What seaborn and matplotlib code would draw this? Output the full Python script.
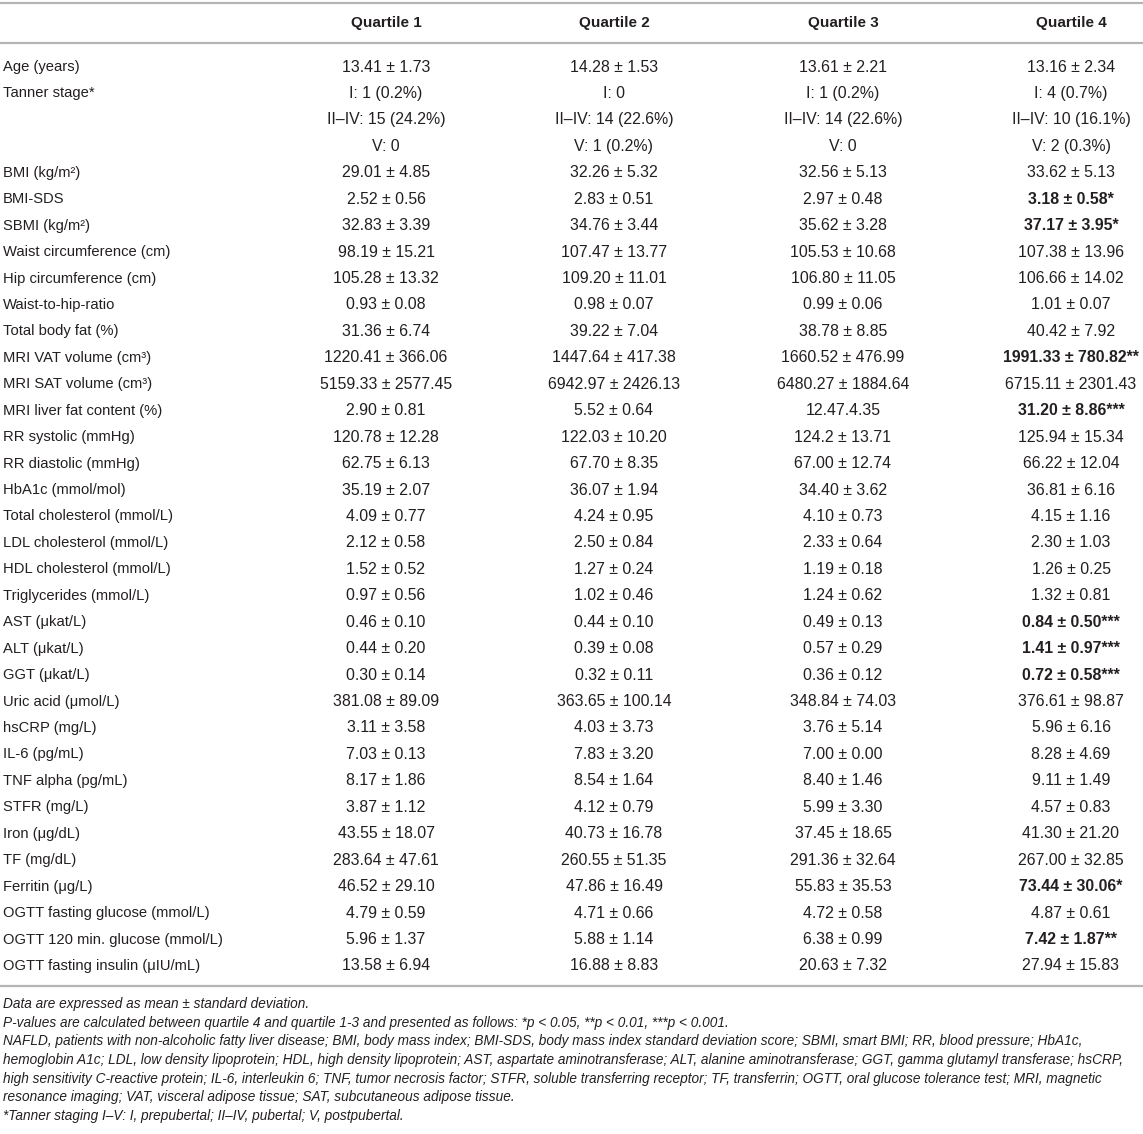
import matplotlib
matplotlib.use("Agg")
import matplotlib.pyplot as plt
import seaborn as sns

# Table contents
columns = ["Quartile 1", "Quartile 2", "Quartile 3", "Quartile 4"]

labels = [
    "Age (years)", "Tanner stage*", "", "", "BMI (kg/m²)", "BMI-SDS", "SBMI (kg/m²)",
    "Waist circumference (cm)", "Hip circumference (cm)", "Waist-to-hip-ratio",
    "Total body fat (%)", "MRI VAT volume (cm³)", "MRI SAT volume (cm³)",
    "MRI liver fat content (%)", "RR systolic (mmHg)", "RR diastolic (mmHg)",
    "HbA1c (mmol/mol)", "Total cholesterol (mmol/L)", "LDL cholesterol (mmol/L)",
    "HDL cholesterol (mmol/L)", "Triglycerides (mmol/L)", "AST (μkat/L)", "ALT (μkat/L)",
    "GGT (μkat/L)", "Uric acid (μmol/L)", "hsCRP (mg/L)", "IL-6 (pg/mL)",
    "TNF alpha (pg/mL)", "STFR (mg/L)", "Iron (μg/dL)", "TF (mg/dL)", "Ferritin (μg/L)",
    "OGTT fasting glucose (mmol/L)", "OGTT 120 min. glucose (mmol/L)",
    "OGTT fasting insulin (μIU/mL)",
]

q1 = [
    "13.41 ± 1.73", "I: 1 (0.2%)", "II–IV: 15 (24.2%)", "V: 0", "29.01 ± 4.85",
    "2.52 ± 0.56", "32.83 ± 3.39", "98.19 ± 15.21", "105.28 ± 13.32", "0.93 ± 0.08",
    "31.36 ± 6.74", "1220.41 ± 366.06", "5159.33 ± 2577.45", "2.90 ± 0.81",
    "120.78 ± 12.28", "62.75 ± 6.13", "35.19 ± 2.07", "4.09 ± 0.77", "2.12 ± 0.58",
    "1.52 ± 0.52", "0.97 ± 0.56", "0.46 ± 0.10", "0.44 ± 0.20", "0.30 ± 0.14",
    "381.08 ± 89.09", "3.11 ± 3.58", "7.03 ± 0.13", "8.17 ± 1.86", "3.87 ± 1.12",
    "43.55 ± 18.07", "283.64 ± 47.61", "46.52 ± 29.10", "4.79 ± 0.59", "5.96 ± 1.37",
    "13.58 ± 6.94",
]

q2 = [
    "14.28 ± 1.53", "I: 0", "II–IV: 14 (22.6%)", "V: 1 (0.2%)", "32.26 ± 5.32",
    "2.83 ± 0.51", "34.76 ± 3.44", "107.47 ± 13.77", "109.20 ± 11.01", "0.98 ± 0.07",
    "39.22 ± 7.04", "1447.64 ± 417.38", "6942.97 ± 2426.13", "5.52 ± 0.64",
    "122.03 ± 10.20", "67.70 ± 8.35", "36.07 ± 1.94", "4.24 ± 0.95", "2.50 ± 0.84",
    "1.27 ± 0.24", "1.02 ± 0.46", "0.44 ± 0.10", "0.39 ± 0.08", "0.32 ± 0.11",
    "363.65 ± 100.14", "4.03 ± 3.73", "7.83 ± 3.20", "8.54 ± 1.64", "4.12 ± 0.79",
    "40.73 ± 16.78", "260.55 ± 51.35", "47.86 ± 16.49", "4.71 ± 0.66", "5.88 ± 1.14",
    "16.88 ± 8.83",
]

q3 = [
    "13.61 ± 2.21", "I: 1 (0.2%)", "II–IV: 14 (22.6%)", "V: 0", "32.56 ± 5.13",
    "2.97 ± 0.48", "35.62 ± 3.28", "105.53 ± 10.68", "106.80 ± 11.05", "0.99 ± 0.06",
    "38.78 ± 8.85", "1660.52 ± 476.99", "6480.27 ± 1884.64", "12.47.4.35",
    "124.2 ± 13.71", "67.00 ± 12.74", "34.40 ± 3.62", "4.10 ± 0.73", "2.33 ± 0.64",
    "1.19 ± 0.18", "1.24 ± 0.62", "0.49 ± 0.13", "0.57 ± 0.29", "0.36 ± 0.12",
    "348.84 ± 74.03", "3.76 ± 5.14", "7.00 ± 0.00", "8.40 ± 1.46", "5.99 ± 3.30",
    "37.45 ± 18.65", "291.36 ± 32.64", "55.83 ± 35.53", "4.72 ± 0.58", "6.38 ± 0.99",
    "20.63 ± 7.32",
]

q4 = [
    "13.16 ± 2.34", "I: 4 (0.7%)", "II–IV: 10 (16.1%)", "V: 2 (0.3%)", "33.62 ± 5.13",
    "3.18 ± 0.58*", "37.17 ± 3.95*", "107.38 ± 13.96", "106.66 ± 14.02", "1.01 ± 0.07",
    "40.42 ± 7.92", "1991.33 ± 780.82**", "6715.11 ± 2301.43", "31.20 ± 8.86***",
    "125.94 ± 15.34", "66.22 ± 12.04", "36.81 ± 6.16", "4.15 ± 1.16", "2.30 ± 1.03",
    "1.26 ± 0.25", "1.32 ± 0.81", "0.84 ± 0.50***", "1.41 ± 0.97***", "0.72 ± 0.58***",
    "376.61 ± 98.87", "5.96 ± 6.16", "8.28 ± 4.69", "9.11 ± 1.49", "4.57 ± 0.83",
    "41.30 ± 21.20", "267.00 ± 32.85", "73.44 ± 30.06*", "4.87 ± 0.61", "7.42 ± 1.87**",
    "27.94 ± 15.83",
]

# rows where the quartile 4 value is significant (bold)
bold_q4 = ["BMI-SDS", "SBMI (kg/m²)", "MRI VAT volume (cm³)", "MRI liver fat content (%)",
           "AST (μkat/L)", "ALT (μkat/L)", "GGT (μkat/L)", "Ferritin (μg/L)",
           "OGTT 120 min. glucose (mmol/L)"]

footnotes = [
    "Data are expressed as mean ± standard deviation.",
    "P-values are calculated between quartile 4 and quartile 1-3 and presented as follows: *p < 0.05, **p < 0.01, ***p < 0.001.",
    "NAFLD, patients with non-alcoholic fatty liver disease; BMI, body mass index; BMI-SDS, body mass index standard deviation score; SBMI, smart BMI; RR, blood pressure; HbA1c,",
    "hemoglobin A1c; LDL, low density lipoprotein; HDL, high density lipoprotein; AST, aspartate aminotransferase; ALT, alanine aminotransferase; GGT, gamma glutamyl transferase; hsCRP,",
    "high sensitivity C-reactive protein; IL-6, interleukin 6; TNF, tumor necrosis factor; STFR, soluble transferring receptor; TF, transferrin; OGTT, oral glucose tolerance test; MRI, magnetic",
    "resonance imaging; VAT, visceral adipose tissue; SAT, subcutaneous adipose tissue.",
    "*Tanner staging I–V: I, prepubertal; II–IV, pubertal; V, postpubertal.",
]

sns.set_theme(style="white")
plt.rcParams["font.family"] = ["Liberation Sans", "DejaVu Sans"]

W, H = 1143, 1134
fig = plt.figure(figsize=(W / 100, H / 100), dpi=100)
ax = fig.add_axes([0, 0, 1, 1])
ax.set_xlim(0, W)
ax.set_ylim(H, 0)
ax.axis("off")

txt = "#231f20"
rule = "#b5b5b5"
col_x = [386, 614, 843, 1071]

# rules
ax.hlines([3, 43, 986], 0, W, color=rule, lw=1.6)

# header
for x, name in zip(col_x, columns):
    ax.text(x, 23, name, ha="center", va="center", fontsize=11, fontweight="bold", color=txt)

# body rows
y0, dy = 67, 26.44
for i, lab in enumerate(labels):
    y = y0 + i * dy
    ax.text(3, y, lab, ha="left", va="center", fontsize=10.6, color=txt)
    for j, vals in enumerate([q1, q2, q3, q4]):
        weight = "bold" if (j == 3 and lab in bold_q4) else "normal"
        ax.text(col_x[j], y, vals[i], ha="center", va="center", fontsize=11.4,
                fontweight=weight, color=txt)

# footnotes
fy0, fdy = 1004, 18.7
for k, note in enumerate(footnotes):
    ax.text(3, fy0 + k * fdy, note, ha="left", va="center", fontsize=9.85,
            style="italic", color=txt)

fig.savefig("out.png", dpi=100, facecolor="white")
